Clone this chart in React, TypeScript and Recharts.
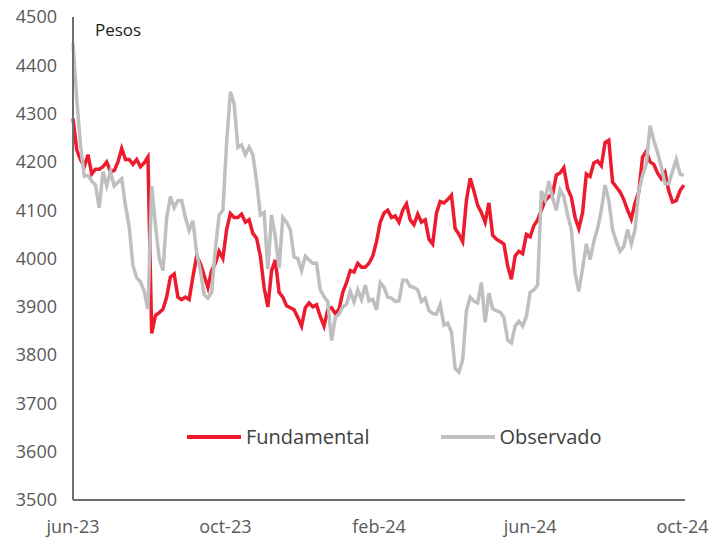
import { LineChart, Line, XAxis, YAxis } from 'recharts';

// sampled every 3 days from 1 Jun 2023
const dayStep = 3;

const fundamental = [
  4290, 4225, 4205, 4190, 4215, 4175, 4185, 4185, 4190, 4200,
  4180, 4182, 4200, 4228, 4205, 4205, 4195, 4205, 4190, 4198,
  4210, 3845, 3882, 3888, 3895, 3920, 3962, 3968, 3920, 3915,
  3920, 3915, 3962, 4005, 3990, 3965, 3940, 3975, 3990, 4015,
  4000, 4060, 4093, 4085, 4085, 4092, 4075, 4080, 4052, 4042,
  4005, 3940, 3900, 3975, 3997, 3930, 3920, 3902, 3898, 3894,
  3878, 3860, 3898, 3908, 3900, 3904, 3880, 3860, 3894, 3898,
  3886, 3895, 3930, 3950, 3975, 3972, 3990, 3982, 3982, 3990,
  4005, 4035, 4075, 4094, 4100, 4085, 4088, 4075, 4100, 4113,
  4080, 4070, 4092, 4075, 4080, 4040, 4030, 4094, 4118, 4115,
  4122, 4131, 4062, 4050, 4035, 4120, 4166, 4140, 4110, 4095,
  4075, 4115, 4048, 4040, 4035, 4030, 3985, 3957, 4005, 4015,
  4010, 4050, 4045, 4068, 4080, 4100, 4120, 4128, 4133, 4173,
  4177, 4188, 4145, 4127, 4085, 4062, 4095, 4175, 4170, 4198,
  4202, 4192, 4240, 4245, 4158, 4148, 4138, 4122, 4100, 4082,
  4115, 4138, 4210, 4222, 4200, 4195, 4177, 4165, 4178, 4140,
  4117, 4120, 4140, 4152,
];

const observado = [
  4446, 4330, 4235, 4170, 4172, 4160, 4152, 4105, 4180, 4150,
  4180, 4150, 4158, 4165, 4110, 4065, 3985, 3960, 3952, 3932,
  3895, 4150, 4070, 4000, 3975, 4085, 4128, 4105, 4120, 4120,
  4085, 4058, 4078, 4012, 3975, 3925, 3918, 3930, 4020, 4090,
  4100, 4240, 4345, 4320, 4230, 4235, 4215, 4231, 4215, 4160,
  4090, 4095, 3978, 4090, 4045, 3980, 4085, 4075, 4060, 4003,
  4000, 3975, 4005, 3997, 3990, 3990, 3935, 3921, 3910, 3830,
  3878, 3885, 3900, 3905, 3932, 3910, 3935, 3915, 3945, 3912,
  3915, 3894, 3950, 3940, 3920, 3918, 3911, 3912, 3955, 3955,
  3942, 3940, 3935, 3911, 3918, 3892, 3886, 3885, 3905, 3862,
  3866, 3848, 3772, 3765, 3790, 3892, 3920, 3912, 3908, 3950,
  3868, 3928, 3896, 3892, 3889, 3878, 3831, 3825, 3860, 3870,
  3860, 3880, 3930, 3935, 3945, 4140, 4122, 4160, 4125, 4100,
  4142, 4128, 4090, 4060, 3970, 3932, 3980, 4030, 3998, 4035,
  4062, 4100, 4152, 4120, 4060, 4035, 4015, 4025, 4060, 4030,
  4060, 4140, 4172, 4195, 4275, 4245, 4220, 4190, 4155, 4155,
  4180, 4205, 4175, 4172,
];

const tickDays = [0, 122, 245, 366, 488];
const tickLabels = ['jun-23', 'oct-23', 'feb-24', 'jun-24', 'oct-24'];
const yTicks = [3500, 3600, 3700, 3800, 3900, 4000, 4100, 4200, 4300, 4400, 4500];

const RED = '#ec1c2e';
const GREY = '#bfbfbf';
const FONT = '"Open Sans", sans-serif';

const data = fundamental.map((v, i) => ({
  day: i * dayStep,
  fundamental: v,
  observado: observado[i],
}));

function ChartLegend() {
  const items = [
    { label: 'Fundamental', color: RED, gap: 0 },
    { label: 'Observado', color: GREY, gap: 71 },
  ];
  return (
    <div
      style={{
        position: 'absolute',
        left: 187,
        top: 423,
        display: 'flex',
        alignItems: 'center',
        fontFamily: FONT,
        fontSize: 20,
        lineHeight: '28px',
        color: '#404040',
      }}
    >
      {items.map((it) => (
        <div key={it.label} style={{ display: 'flex', alignItems: 'center', marginLeft: it.gap }}>
          <div style={{ width: 54, height: 4, background: it.color, marginRight: 5 }} />
          <span>{it.label}</span>
        </div>
      ))}
    </div>
  );
}

export default function App() {
  return (
    <div style={{ position: 'absolute', left: 0, top: 0, width: 709, height: 537, background: '#fff' }}>
      <LineChart
        width={709}
        height={537}
        data={data}
        margin={{ top: 17, right: 24, bottom: 0, left: 0 }}
      >
        <XAxis
          dataKey="day"
          type="number"
          domain={[0, 490]}
          ticks={tickDays}
          tickFormatter={(d) => tickLabels[tickDays.indexOf(d)]}
          height={37}
          tickLine={false}
          tickMargin={14}
          axisLine={{ stroke: '#6f6f6f', strokeWidth: 2 }}
          tick={{ fill: '#595959', fontSize: 18, fontFamily: FONT }}
        />
        <YAxis
          domain={[3500, 4500]}
          ticks={yTicks}
          width={73}
          tickLine={false}
          tickMargin={10}
          axisLine={{ stroke: '#6f6f6f', strokeWidth: 2 }}
          tick={{ fill: '#595959', fontSize: 18, fontFamily: FONT }}
        />
        <Line
          type="linear"
          dataKey="fundamental"
          name="Fundamental"
          stroke={RED}
          strokeWidth={3.5}
          dot={false}
          isAnimationActive={false}
        />
        <Line
          type="linear"
          dataKey="observado"
          name="Observado"
          stroke={GREY}
          strokeWidth={3.5}
          dot={false}
          isAnimationActive={false}
        />
      </LineChart>
      <ChartLegend />
      <div
        style={{
          position: 'absolute',
          left: 95,
          top: 19,
          fontFamily: FONT,
          fontSize: 17,
          color: '#222',
          lineHeight: '22px',
        }}
      >
        Pesos
      </div>
    </div>
  );
}
